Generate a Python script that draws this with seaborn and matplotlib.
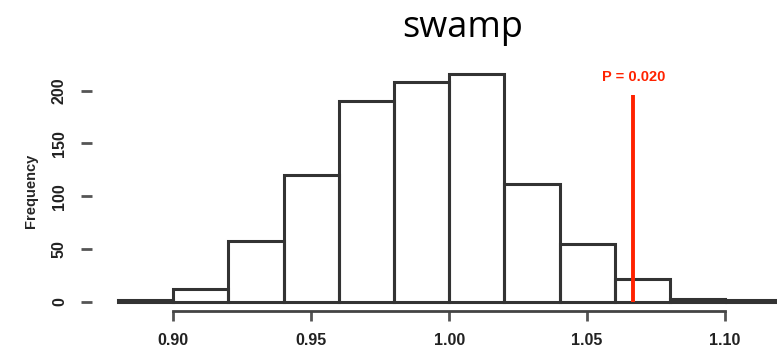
import matplotlib
matplotlib.use("Agg")
import matplotlib.pyplot as plt
import seaborn as sns
import numpy as np

# histogram of the permuted statistic, bins 0.02 wide
bin_edges = [0.88, 0.90, 0.92, 0.94, 0.96, 0.98, 1.00, 1.02, 1.04, 1.06, 1.08, 1.10, 1.12]
counts = [2, 12, 58, 120, 190, 208, 216, 112, 55, 22, 3, 2]
observed = 1.0667
p_label = "P = 0.020"
x_ticks = [0.90, 0.95, 1.00, 1.05, 1.10]
x_ticklabels = ["0.90", "0.95", "1.00", "1.05", "1.10"]
y_ticks = [0, 50, 100, 150, 200]

sns.set_style("white")
plt.rcParams['font.family'] = ['Liberation Sans', 'DejaVu Sans']

fig = plt.figure(figsize=(7.77, 3.52), dpi=100)
ax = fig.add_axes([92/777, 41/352, 685/777, 241/352])

centers = [(a + b) / 2 for a, b in zip(bin_edges[:-1], bin_edges[1:])]
sns.histplot(ax=ax, x=centers, weights=counts, bins=bin_edges,
             fill=False, element="bars", color="#333333", linewidth=2.2)

ax.vlines(observed, 0, 196, color="#ff2200", linewidth=2.8)
ax.text(observed, 213, p_label, color="#ff2200", fontsize=10.5,
        fontweight="bold", ha="center", va="center")

ax.set_xlim(0.8706, 1.1188)
ax.set_ylim(-8.5, 219.5)

for s in ["top", "right", "left"]:
    ax.spines[s].set_visible(False)
ax.spines["bottom"].set_bounds(0.90, 1.10)
ax.spines["bottom"].set_color("#444444")
ax.spines["bottom"].set_linewidth(2)

ax.set_xticks(x_ticks)
ax.set_xticklabels(x_ticklabels)
ax.set_yticks(y_ticks)
ax.set_yticklabels([str(v) for v in y_ticks], rotation=90, va="center")
ax.tick_params(axis="x", bottom=True, length=7, width=2, color="#555555",
               labelsize=11.5, pad=9)
ax.tick_params(axis="y", left=True, length=8, width=2, color="#555555",
               labelsize=11.5, pad=10, direction="out")
for lab in ax.get_xticklabels() + ax.get_yticklabels():
    lab.set_fontweight("bold")
    lab.set_color("#222222")

ax.set_xlabel("")
ax.set_ylabel("Frequency", fontsize=10.5, fontweight="bold", labelpad=10)

fig.text(463/777, 1 - 28/352, "swamp", fontsize=26, family="Open Sans",
         color="black", ha="center", va="center")

fig.savefig("out.png", dpi=100)
